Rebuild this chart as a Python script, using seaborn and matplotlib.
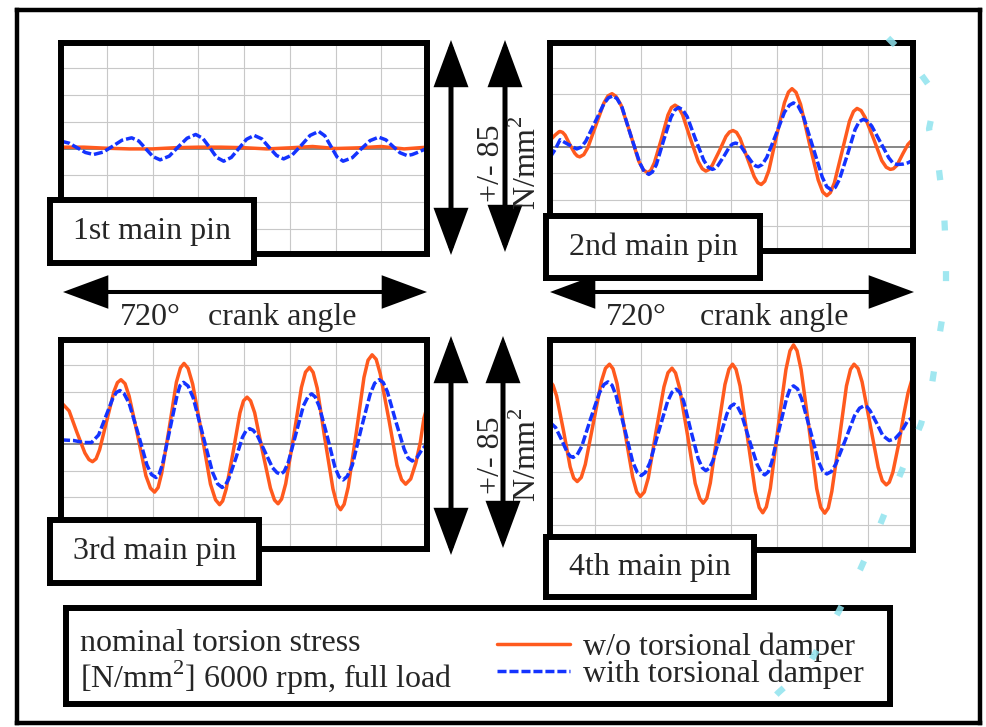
import pandas as pd
import matplotlib
matplotlib.use('Agg')
import matplotlib.pyplot as plt
from matplotlib.lines import Line2D
from matplotlib.patches import FancyArrowPatch
import seaborn as sns

# --- values (crank angle in deg, stress in N/mm2) ---
pin1_wo_angle = [0, 45, 90, 135, 180, 225, 270, 315, 360, 405, 450, 495, 540, 585, 630, 675, 720]
pin1_wo = [1, 1, 0.2, -0.3, -0.3, 0.6, 1, 1, 0.6, -0.3, 0.5, 1.5, 0, 0.5, 1.5, -0.3, 1]
pin1_with_angle = [0, 16, 32, 48, 64, 83, 102, 120, 139, 153, 167, 181, 195, 213, 230, 248, 265,
                   279, 293, 306, 320, 335, 350, 365, 380, 395, 409, 424, 438, 455, 473, 490, 507,
                   519, 531, 543, 555, 573, 590, 608, 625, 639, 653, 667, 681, 691, 701, 710, 720]
pin1_with = [5.5, 4.0, 0.5, -3.0, -4.5, -2.7, 1.8, 6.2, 8.0, 5.6, -0.3, -6.1, -8.5, -5.7, 1.0, 7.7, 10.5,
             7.6, 0.5, -6.6, -9.5, -6.7, 0.1, 6.9, 9.8, 7.2, 1.0, -5.2, -7.8, -4.8, 2.5, 9.8, 12.8,
             9.5, 1.6, -6.3, -9.5, -6.9, -0.5, 5.9, 8.5, 6.5, 1.6, -3.2, -5.3, -4.5, -3.0, -1.5, 0.0]

pin2_wo_angle = [0, 10, 18, 20, 25, 30, 39, 49, 54, 59, 67, 75, 91, 107, 115, 123, 131, 141, 159, 176,
                 185, 194, 200, 207, 221, 234, 241, 248, 255, 263, 278, 294, 302, 309, 315, 322, 336,
                 349, 356, 363, 370, 377, 391, 405, 412, 419, 426, 434, 449, 465, 473, 480, 488, 497,
                 514, 532, 541, 549, 556, 564, 579, 594, 602, 609, 617, 625, 642, 658, 667, 675, 681,
                 688, 700, 710, 720]
pin2_wo = [5, 9, 11.6, 11.8, 11.1, 9, 2.1, -4.7, -6.8, -7.5, -5.8, -0.5, 16.5, 33.5, 38.8, 40.5, 38.4,
           31.7, 10.5, -10.7, -17.4, -19.5, -17.7, -12, 6.1, 24.3, 30, 31.8, 30, 24.5, 6.8, -11, -16.5,
           -18.3, -17.2, -13.8, -2.9, 8, 11.4, 12.5, 11.1, 6.5, -8, -22.5, -27.1, -28.5, -26, -17.9,
           7.9, 33.6, 41.7, 44.3, 41.5, 32.4, 3.6, -25.1, -34.2, -37, -34.7, -27.3, -3.9, 19.6, 27,
           29.3, 27.7, 22.5, 6.1, -10.3, -15.4, -17, -16.5, -14, -5, 2, 6]
pin2_with_angle = [0, 10, 20, 36, 53, 62, 71, 89, 107, 116, 125, 133, 143, 160, 178, 187, 196, 203,
                   211, 225, 240, 248, 255, 263, 272, 288, 305, 314, 322, 327, 333, 345, 356, 362,
                   368, 373, 379, 390, 402, 408, 413, 421, 430, 448, 465, 475, 483, 492, 502, 521,
                   540, 549, 558, 566, 574, 590, 605, 613, 621, 629, 638, 655, 672, 680, 688, 700,
                   710, 720]
pin2_with = [-8, -2, 5.5, 2, -1.5, -0.1, 4.4, 18.6, 32.9, 37.4, 38.8, 36.7, 30, 9, -12, -18.7, -20.8,
             -19, -13.4, 4.6, 22.6, 28.2, 30, 28.4, 23.1, 6.5, -10.1, -15.4, -17, -16.3, -14.1, -7,
             0.1, 2.3, 3, 2.4, 0.4, -6, -12.4, -14.4, -15, -13.3, -7.9, 9.3, 26.4, 31.8, 33.5, 31.2,
             23.9, 0.5, -22.9, -30.2, -32.5, -30.6, -24.7, -5.8, 13.2, 19.1, 21, 19.8, 16, 3.9, -8.2,
             -12.1, -13.3, -13, -12, -10]

pin3_wo_angle = [0, 16, 31, 47, 55, 62, 69, 76, 90, 104, 111, 118, 126, 134, 151, 167, 176, 184, 191,
                 198, 213, 227, 235, 242, 250, 259, 277, 294, 304, 312, 318, 325, 339, 352, 359, 366,
                 373, 381, 396, 412, 420, 427, 434, 442, 458, 473, 481, 489, 496, 504, 519, 535, 543,
                 550, 557, 565, 581, 596, 604, 612, 620, 628, 645, 661, 670, 678, 688, 698, 707, 714, 720]
pin3_wo = [32, 25.4, 9.5, -6.4, -11.4, -13, -10.8, -3.9, 18, 39.9, 46.8, 49, 46, 36.6, 6.5, -23.6, -33,
           -36, -32.6, -21.8, 12.6, 47.1, 57.9, 61.3, 57.6, 45.7, 7.9, -29.9, -41.8, -45.5, -42.7,
           -33.6, -4.9, 23.9, 33, 35.8, 33, 24, -4.5, -33, -42, -44.8, -41.2, -29.7, 6.8, 43.2, 54.7,
           58.3, 54.5, 42.6, 4.5, -33.6, -45.5, -49.3, -45.2, -32.2, 9.3, 50.7, 63.7, 67.8, 64.4,
           53.5, 18.9, -15.7, -26.6, -30, -26, -14, 2, 20, 28]
pin3_with_angle = [0, 25, 45, 60, 74, 88, 102, 109, 116, 124, 134, 152, 169, 178, 187, 193, 200, 214,
                   228, 234, 241, 250, 260, 279, 298, 308, 317, 323, 330, 344, 357, 364, 371, 378, 386,
                   401, 416, 425, 432, 439, 447, 462, 477, 486, 493, 500, 508, 524, 539, 547, 555, 563,
                   573, 590, 608, 617, 626, 634, 642, 658, 675, 683, 691, 700, 710, 720]
pin3_with = [3.5, 3, 1.5, 1.5, 7.2, 21.1, 35, 39.4, 40.8, 38.5, 31.2, 7.9, -15.4, -22.7, -25, -22.5,
             -14.5, 11, 36.5, 44.5, 47, 44.2, 35.4, 7.3, -20.9, -29.7, -32.5, -30.9, -26, -10.3, 5.5,
             10.4, 12, 10.8, 7, -5.3, -17.5, -21.3, -22.5, -20.4, -13.6, 7.9, 29.4, 36.2, 38.3, 36,
             28.8, 5.8, -17.3, -24.5, -26.8, -24.1, -15.7, 11.1, 37.9, 46.3, 49, 46.8, 40, 18.3, -3.5,
             -10.3, -12.5, -10, -4, 0.5]

pin4_wo_angle = [0, 6, 13, 27, 40, 47, 54, 62, 70, 86, 102, 110, 118, 125, 133, 148, 164, 172, 179, 187,
                 195, 210, 226, 234, 242, 249, 257, 273, 288, 297, 304, 311, 318, 332, 347, 355, 362,
                 369, 377, 392, 407, 415, 422, 429, 437, 452, 468, 476, 483, 490, 498, 514, 529, 537,
                 545, 552, 559, 574, 588, 596, 603, 611, 619, 635, 651, 659, 667, 673, 680, 692, 702,
                 710, 720]
pin4_wo = [48, 45, 37, 10.3, -16.5, -24.9, -27.5, -24.4, -14.6, 16.6, 47.9, 57.7, 60.8, 57.3, 46.2, 11,
           -24.2, -35.3, -38.8, -35.4, -24.7, 9.5, 43.7, 54.4, 57.8, 54.2, 42.9, 7, -28.9, -40.2,
           -43.8, -40.1, -28.5, 8.5, 45.5, 57.1, 60.8, 56.9, 44.4, 4.9, -34.7, -47.1, -51, -46.6,
           -32.6, 12.1, 56.8, 70.9, 75.3, 70.9, 56.8, 12, -32.8, -46.9, -51.3, -47.4, -34.9, 4.8,
           44.4, 56.9, 60.8, 57.6, 47.5, 15.4, -16.8, -26.8, -30, -28, -20.6, 1.5, 23.5, 39, 52]
pin4_with_angle = [0, 11, 23, 34, 40, 46, 54, 63, 80, 98, 107, 115, 123, 131, 148, 164, 173, 181, 189,
                   198, 215, 233, 242, 250, 257, 265, 279, 294, 302, 309, 316, 323, 337, 351, 358, 365,
                   372, 380, 395, 411, 419, 426, 433, 440, 454, 469, 476, 483, 491, 499, 516, 532, 541,
                   549, 558, 567, 586, 604, 614, 623, 629, 635, 648, 660, 673, 685, 697, 709, 720]
pin4_with = [17, 13.2, 3.9, -5.4, -8.4, -9.3, -7.3, -1, 19.1, 39.2, 45.5, 47.5, 45, 37.2, 12.3, -12.7,
             -20.5, -23, -20.7, -13.5, 9.5, 32.5, 39.7, 42, 39.9, 33.1, 11.4, -10.3, -17.1, -19.3,
             -17.5, -12, 5.8, 23.5, 29, 30.8, 28.9, 23, 4.1, -14.8, -20.6, -22.5, -20.2, -12.7, 11,
             34.7, 42.2, 44.5, 42.2, 34.8, 11.4, -12.1, -19.5, -21.8, -20, -14.3, 3.9, 22, 27.7, 29.5,
             28.6, 25.7, 16.4, 7.1, 3.3, 5, 10, 18, 21]

pin_names = ['1st main pin', '2nd main pin', '3rd main pin', '4th main pin']
series_names = ['w/o torsional damper', 'with torsional damper']

# faint cyan dotted arc seen over the right side of the scan (figure pixels)
arc_x = [888, 912, 936, 929, 939, 944, 946, 946, 939, 932, 921, 900, 880, 860, 839, 808, 778, 750]
arc_y = [38, 62, 95, 129, 170, 211, 254, 295, 338, 384, 424, 475, 525, 570, 611, 666, 693, 722]

W, H = 987, 727
ORANGE = '#ff5a1e'
BLUE = '#1433ff'
FS = 23
BLUE_DASH = (2.6, 0.85)

sns.set_theme(style='white')
plt.rcParams['font.family'] = ['Liberation Serif', 'DejaVu Serif']
plt.rcParams['mathtext.fontset'] = 'custom'
plt.rcParams['mathtext.rm'] = 'Liberation Serif'


def px_rect(l, t, r, b):
    # pixel box (top-left origin) -> figure fraction rect
    return [l / W, 1 - b / H, (r - l) / W, (b - t) / H]


def boxed(ax, lw=4.3):
    ax.set_xticks([])
    ax.set_yticks([])
    ax.set_facecolor('white')
    for sp in ax.spines.values():
        sp.set_visible(True)
        sp.set_color('black')
        sp.set_linewidth(lw)


def double_arrow(ax, p0, p1, lw):
    ax.add_patch(FancyArrowPatch(p0, p1, arrowstyle='<|-|>,head_length=2.7,head_width=1.0',
                                 mutation_scale=10, lw=lw, color='black', shrinkA=0, shrinkB=0,
                                 joinstyle='miter', capstyle='butt', clip_on=False))


fig = plt.figure(figsize=(W / 100, H / 100), dpi=100)

# outer frame + annotations live in one pixel-coordinate axes
bg = fig.add_axes(px_rect(17, 10, 980, 723), zorder=0)
boxed(bg, lw=3.2)
bg.set_xlim(17, 980)
bg.set_ylim(723, 10)

# --- the four pin panels ---
df = pd.concat([
    pd.DataFrame({'pin': pin_names[0], 'series': series_names[0], 'angle': pin1_wo_angle, 'stress': pin1_wo}),
    pd.DataFrame({'pin': pin_names[0], 'series': series_names[1], 'angle': pin1_with_angle, 'stress': pin1_with}),
    pd.DataFrame({'pin': pin_names[1], 'series': series_names[0], 'angle': pin2_wo_angle, 'stress': pin2_wo}),
    pd.DataFrame({'pin': pin_names[1], 'series': series_names[1], 'angle': pin2_with_angle, 'stress': pin2_with}),
    pd.DataFrame({'pin': pin_names[2], 'series': series_names[0], 'angle': pin3_wo_angle, 'stress': pin3_wo}),
    pd.DataFrame({'pin': pin_names[2], 'series': series_names[1], 'angle': pin3_with_angle, 'stress': pin3_with}),
    pd.DataFrame({'pin': pin_names[3], 'series': series_names[0], 'angle': pin4_wo_angle, 'stress': pin4_wo}),
    pd.DataFrame({'pin': pin_names[3], 'series': series_names[1], 'angle': pin4_with_angle, 'stress': pin4_with}),
])

panel_boxes = [(61, 43, 427, 254), (550, 43, 913, 251), (61, 340, 427, 549), (550, 340, 913, 550)]
label_boxes = [(50, 200, 254, 263), (546, 216, 760, 278), (50, 520, 259, 583), (546, 537, 754, 597)]

for name, pbox, lbox in zip(pin_names, panel_boxes, label_boxes):
    ax = fig.add_axes(px_rect(*pbox), zorder=1)
    sub = df[df['pin'] == name]
    sns.lineplot(data=sub, x='angle', y='stress', hue='series', style='series',
                 palette={series_names[0]: ORANGE, series_names[1]: BLUE},
                 dashes={series_names[0]: '', series_names[1]: BLUE_DASH},
                 hue_order=series_names, lw=2.5, estimator=None, legend=False, ax=ax)
    ax.set_xlim(0, 720)
    ax.set_ylim(-79, 79)
    ax.set_xticks(range(90, 720, 90))
    ax.set_yticks([-60, -40, -20, 20, 40, 60])
    ax.grid(True, color='#c8c8c8', lw=0.8)
    ax.set_axisbelow(True)
    ax.axhline(0, color='#666666', lw=1.1, zorder=1.5)
    ax.tick_params(length=0, labelbottom=False, labelleft=False)
    ax.set_xlabel('')
    ax.set_ylabel('')
    for sp in ax.spines.values():
        sp.set_visible(True)
        sp.set_color('black')
        sp.set_linewidth(4.3)

    lab = fig.add_axes(px_rect(*lbox), zorder=3)
    boxed(lab)
    lab.text(0.5, 0.5, name, transform=lab.transAxes, ha='center', va='center', fontsize=FS)

# --- scale arrows and their captions ---
double_arrow(bg, (451, 40), (451, 255), 3.6)
double_arrow(bg, (505, 40), (505, 252), 3.6)
double_arrow(bg, (451, 336), (451, 555), 3.6)
double_arrow(bg, (503, 336), (503, 548), 3.6)
double_arrow(bg, (63, 292), (427, 292), 2.9)
double_arrow(bg, (550, 292), (914, 292), 2.9)

for yc in (163, 455):
    bg.text(492, yc, '+/- 85', rotation=90, ha='center', va='center', fontsize=FS)
    bg.text(527, yc, r'N/mm$^\mathregular{2}$', rotation=90, ha='center', va='center', fontsize=FS)

for x_num, x_txt in ((120, 208), (606, 700)):
    bg.text(x_num, 325, '720°', ha='left', va='baseline', fontsize=FS)
    bg.text(x_txt, 325, 'crank angle', ha='left', va='baseline', fontsize=FS)

# --- legend box ---
leg = fig.add_axes(px_rect(66, 608, 890, 704), zorder=3)
boxed(leg)
leg.set_xlim(66, 890)
leg.set_ylim(704, 608)
leg.text(80, 651, 'nominal torsion stress', ha='left', va='baseline', fontsize=FS)
leg.text(80, 688, r'[N/mm$^\mathregular{2}$] 6000 rpm, full load', ha='left', va='baseline', fontsize=FS)
handles = [Line2D([], [], color=ORANGE, lw=2.5),
           Line2D([], [], color=BLUE, lw=2.5, ls=(0, BLUE_DASH))]
leg.legend(handles, series_names, loc='upper left', bbox_to_anchor=(497, 633),
           bbox_transform=leg.transData, frameon=False, borderpad=0, borderaxespad=0,
           handlelength=2.3, handletextpad=0.38, labelspacing=-0.1, fontsize=FS)

# --- faint cyan arc on top ---
fg = fig.add_axes([0, 0, 1, 1], zorder=10)
fg.set_xlim(0, W)
fg.set_ylim(H, 0)
fg.axis('off')
fg.patch.set_alpha(0)
fg.plot(arc_x, arc_y, color='#8fe3ee', lw=4.5, ls=(0, (1.6, 6.5)), alpha=0.85)

fig.savefig('out.png', dpi=100)
